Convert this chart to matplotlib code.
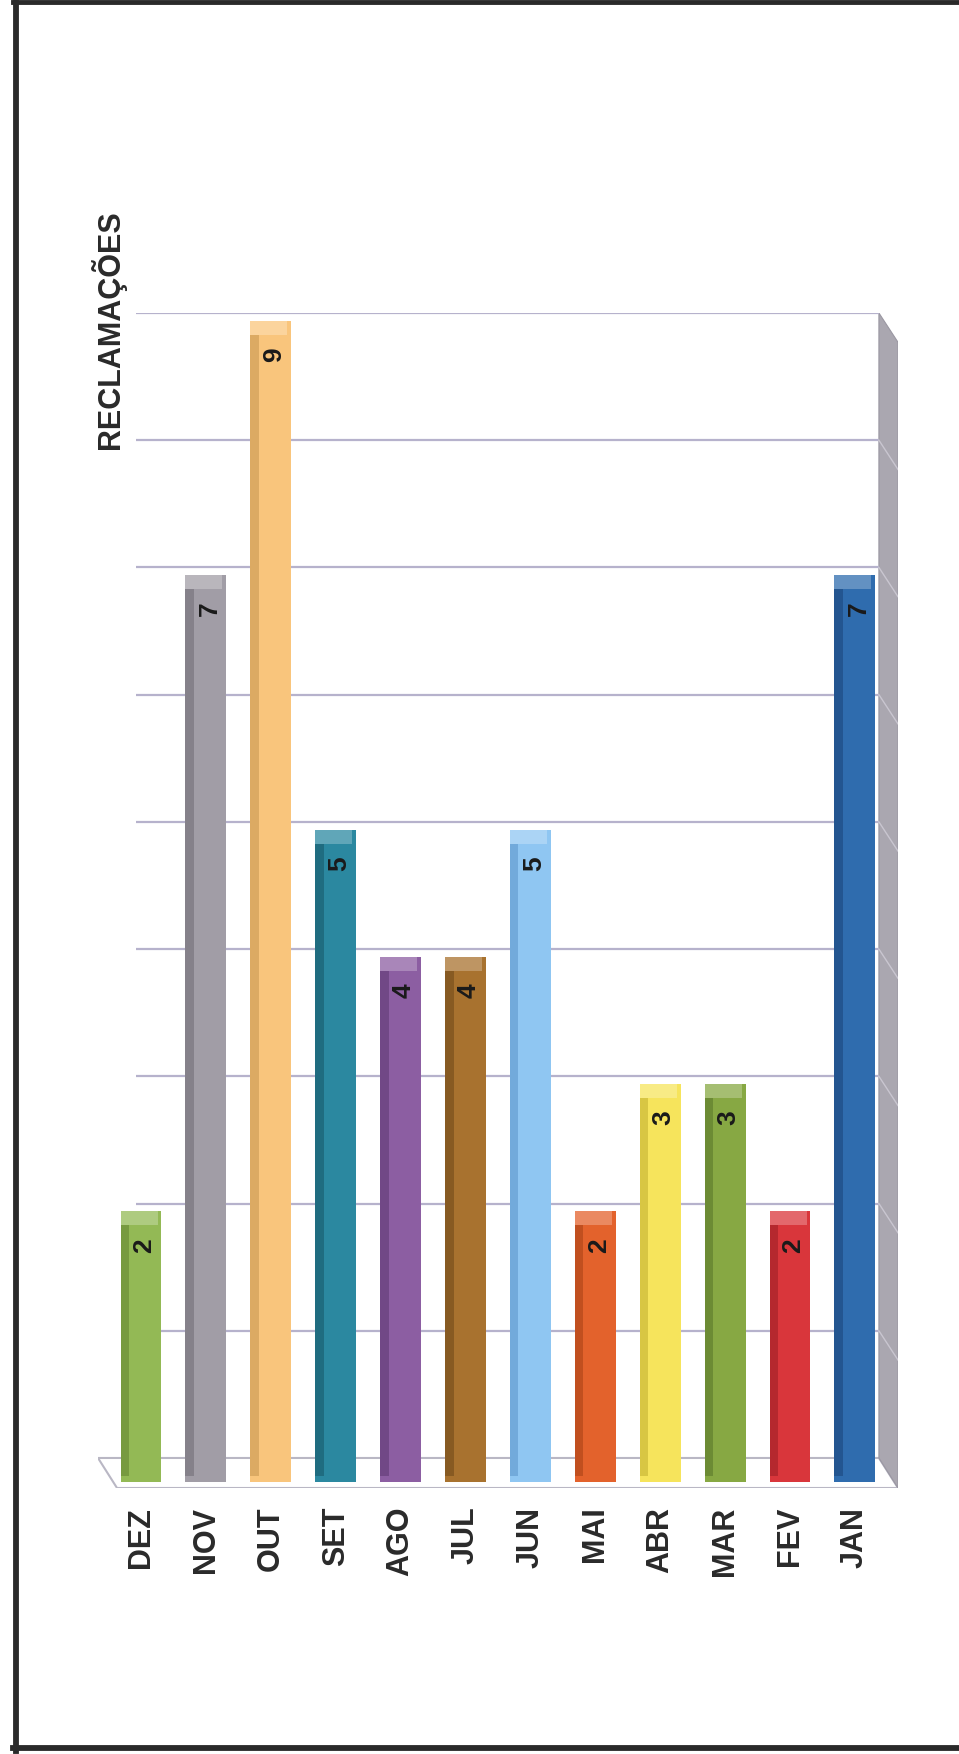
import matplotlib
matplotlib.use("Agg")
import matplotlib.pyplot as plt
from matplotlib import font_manager
from matplotlib.patches import Polygon
from matplotlib.colors import to_rgb
import numpy as np

meses = ["DEZ", "NOV", "OUT", "SET", "AGO", "JUL", "JUN", "MAI", "ABR", "MAR", "FEV", "JAN"]
reclamacoes = [2, 7, 9, 5, 4, 4, 5, 2, 3, 3, 2, 7]
cores = ["#93b955", "#a19da6", "#f9c57c", "#2b88a0", "#8c5ea2", "#a8722f",
         "#8fc6f2", "#e3622c", "#f6e45c", "#87a843", "#d9363b", "#2f6cae"]
cores_lado = ["#779a40", "#85818a", "#dcaa63", "#1f6c80", "#714886", "#875a22",
              "#72aadb", "#c14f1f", "#d8c643", "#6c8b34", "#b5282e", "#235590"]
titulo = "RECLAMAÇÕES"

nomes = {f.name for f in font_manager.fontManager.ttflist}
fonte_texto = "Liberation Sans Narrow" if "Liberation Sans Narrow" in nomes else "Liberation Sans"


def clarear(c, f=0.3):
    r = np.array(to_rgb(c))
    return tuple(r + (1 - r) * f)


W, H = 959, 1754
fig = plt.figure(figsize=(W / 100, H / 100), dpi=100)

# axes in pixel box: x 98..898, y 313..1488 (from top)
ax = fig.add_axes([98 / W, 1 - 1488 / H, 800 / W, 1175 / H])
x = np.arange(len(meses))
ax.set_xlim(-0.663, 11.664)
ax.set_ylim(-0.236, 9)
ax.axis("off")

# floor
chao = Polygon([(-0.663, 0), (11.37, 0), (11.664, -0.236), (-0.37, -0.236)],
               closed=True, facecolor="white", edgecolor="#b9b7c4", lw=1.5, zorder=1)
ax.add_patch(chao)

# right wall
parede = Polygon([(11.37, 0), (11.37, 9), (11.664, 8.77), (11.664, -0.236)],
                 closed=True, facecolor="#aaa7b0", edgecolor="#9a97a2", lw=0.8, zorder=1)
ax.add_patch(parede)

# gridlines
ax.hlines(np.arange(1, 10), -0.077, 11.37, color="#b6b2cc", lw=1.6, zorder=2)
for v in range(1, 9):
    ax.plot([11.37, 11.664], [v, v - 0.23], color="#c9c6d0", lw=1.0, zorder=2)

# bars (3D-ish)
base = -0.19
alturas = np.array(reclamacoes) - 0.06 - base
ax.bar(x, alturas, bottom=base, width=0.63, color=cores, zorder=3)
ax.bar(x - 0.315 + 0.065, alturas - 0.1, bottom=base + 0.05, width=0.13,
       color=cores_lado, zorder=4)
# light top cap
ax.bar(x - 0.03, 0.11, bottom=np.array(reclamacoes) - 0.17, width=0.57,
       color=[clarear(c, 0.25) for c in cores], zorder=4)

for xi, v in zip(x, reclamacoes):
    ax.annotate(str(v), (xi, v), xytext=(2.5, -30), textcoords="offset points",
                rotation=90, ha="center", va="center", fontsize=19,
                fontweight="bold", family="Liberation Sans", color="#1a1a1a", zorder=5)

# month labels
for xi, m in zip(x, meses):
    ax.annotate(m, (xi, -0.236), xytext=(0, -13.5), textcoords="offset points",
                rotation=90, ha="center", va="top", fontsize=22, fontweight="bold",
                family=fonte_texto, color="#2a2a2a", annotation_clip=False)

fig.text(108 / W, 1 - 330 / H, titulo, rotation=90, ha="center", va="center",
         fontsize=22, fontweight="bold", family=fonte_texto, color="#2a2a2a")

# scanned page frame
fig.add_artist(plt.Line2D([15.5 / W, 15.5 / W], [1 - 1751 / H, 1], color="#2a2a2a", lw=4.2))
fig.add_artist(plt.Line2D([13 / W, 1], [1 - 2 / H, 1 - 2 / H], color="#2a2a2a", lw=3.5))
fig.add_artist(plt.Line2D([13 / W, 1], [1 - 1748 / H, 1 - 1748 / H], color="#2a2a2a", lw=4.2))

fig.savefig("out.png", dpi=100, facecolor="white")
